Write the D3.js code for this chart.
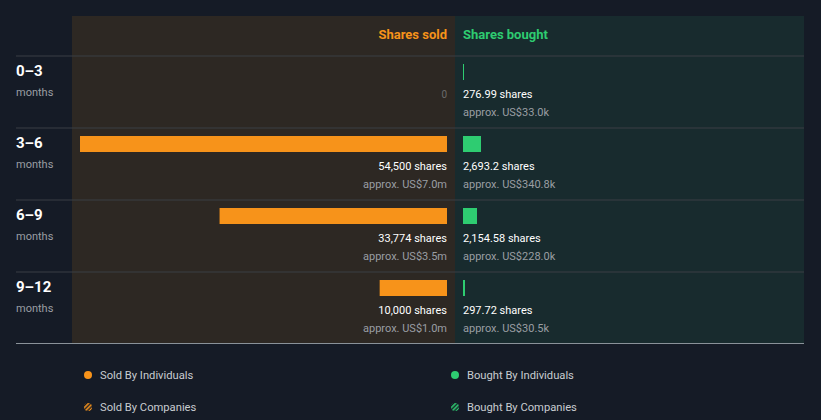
<!DOCTYPE html>
<html>
<head>
<meta charset="utf-8">
<script src="https://cdn.jsdelivr.net/npm/d3@7"></script>
<style>
  body { margin: 0; background: #151b26; }
  svg { display: block; font-family: Roboto, "Noto Sans", sans-serif; }
</style>
</head>
<body>
<div id="graf"></div>
<script>
// Datos
const periodos = ["0–3", "3–6", "6–9", "9–12"]
const vendidas = [0, 54500, 33774, 10000]
const vendidasTxt = ["0", "54,500 shares", "33,774 shares", "10,000 shares"]
const vendidasUsd = ["", "approx. US$7.0m", "approx. US$3.5m", "approx. US$1.0m"]
const compradas = [276.99, 2693.2, 2154.58, 297.72]
const compradasTxt = ["276.99 shares", "2,693.2 shares", "2,154.58 shares", "297.72 shares"]
const compradasUsd = ["approx. US$33.0k", "approx. US$340.8k", "approx. US$228.0k", "approx. US$30.5k"]
const leyenda = ["Sold By Individuals", "Bought By Individuals", "Sold By Companies", "Bought By Companies"]

const anchoTotal = 821
const altoTotal = 420
const naranja = "#f7931a"
const verde = "#2ecc71"

const svg = d3.select("#graf").append("svg")
    .attr("width", anchoTotal)
    .attr("height", altoTotal)

const defs = svg.append("defs")
const hatch = (id, c) => {
    const p = defs.append("pattern").attr("id", id)
        .attr("patternUnits", "userSpaceOnUse")
        .attr("width", 3).attr("height", 3)
        .attr("patternTransform", "rotate(45)")
    p.append("rect").attr("width", 1.6).attr("height", 3).attr("fill", c)
}
hatch("hNar", naranja)
hatch("hVer", verde)

// Paneles
const medio = 455
svg.append("rect").attr("x", 72).attr("y", 16).attr("width", medio - 72).attr("height", 327).attr("fill", "#2d2823")
svg.append("rect").attr("x", medio).attr("y", 16).attr("width", 804 - medio).attr("height", 327).attr("fill", "#182b2e")

// Escaladores
const y = d3.scaleBand().domain(periodos).range([56, 344])
const xs = d3.scaleLinear().domain([0, d3.max(vendidas)]).range([447, 80])
const xb = d3.scaleLinear().domain([0, d3.max(vendidas)]).range([463, 830])

// Encabezados
svg.append("text").attr("x", 447).attr("y", 39).attr("text-anchor", "end")
    .attr("fill", naranja).attr("font-size", 13).attr("font-weight", "bold").text("Shares sold")
svg.append("text").attr("x", 463).attr("y", 39)
    .attr("fill", verde).attr("font-size", 13).attr("font-weight", "bold").text("Shares bought")

// Filas
const filas = svg.selectAll("g.fila").data(periodos).enter().append("g")
    .attr("transform", d => `translate(0,${y(d)})`)

filas.append("line").attr("x1", 16).attr("x2", 804).attr("y1", 0).attr("y2", 0)
    .attr("stroke", "#3a3f44").attr("stroke-width", 1)

filas.append("text").attr("x", 16).attr("y", 20).attr("fill", "#ffffff")
    .attr("font-size", 15).attr("font-weight", "bold").text(d => d)
filas.append("text").attr("x", 16).attr("y", 40).attr("fill", "#9a9ea3")
    .attr("font-size", 11).text("months")

filas.append("rect")
    .attr("x", (d, i) => xs(vendidas[i]))
    .attr("y", 8).attr("height", 16)
    .attr("width", (d, i) => xs(0) - xs(vendidas[i]))
    .attr("fill", naranja)

filas.append("rect")
    .attr("x", xb(0))
    .attr("y", 8).attr("height", 16)
    .attr("width", (d, i) => Math.max(1, Math.floor(xb(compradas[i]) - xb(0))))
    .attr("fill", verde)

filas.append("text").attr("x", 447).attr("y", 42)
    .attr("text-anchor", "end")
    .attr("fill", (d, i) => vendidas[i] === 0 ? "#6b6b6b" : "#ffffff")
    .attr("font-size", (d, i) => vendidas[i] === 0 ? 10 : 11)
    .text((d, i) => vendidasTxt[i])
filas.append("text").attr("x", 447).attr("y", 60).attr("text-anchor", "end")
    .attr("fill", "#9a9ea3").attr("font-size", 11).text((d, i) => vendidasUsd[i])

filas.append("text").attr("x", 463).attr("y", 42)
    .attr("fill", "#ffffff").attr("font-size", 11).text((d, i) => compradasTxt[i])
filas.append("text").attr("x", 463).attr("y", 60)
    .attr("fill", "#9a9ea3").attr("font-size", 11).text((d, i) => compradasUsd[i])

// Linea inferior
svg.append("line").attr("x1", 16).attr("x2", 804).attr("y1", 343.5).attr("y2", 343.5)
    .attr("stroke", "#8a9299").attr("stroke-width", 1)

// Leyenda
const colLey = [naranja, verde, "url(#hNar)", "url(#hVer)"]
const ley = svg.selectAll("g.ley").data(leyenda).enter().append("g")
    .attr("transform", (d, i) => `translate(${i % 2 === 0 ? 88 : 455},${i < 2 ? 375 : 407})`)
ley.append("circle").attr("r", 4).attr("fill", (d, i) => colLey[i])
ley.append("text").attr("x", 12).attr("y", 4).attr("fill", "#c8ccd0")
    .attr("font-size", 11.2).text(d => d)
</script>
</body>
</html>
